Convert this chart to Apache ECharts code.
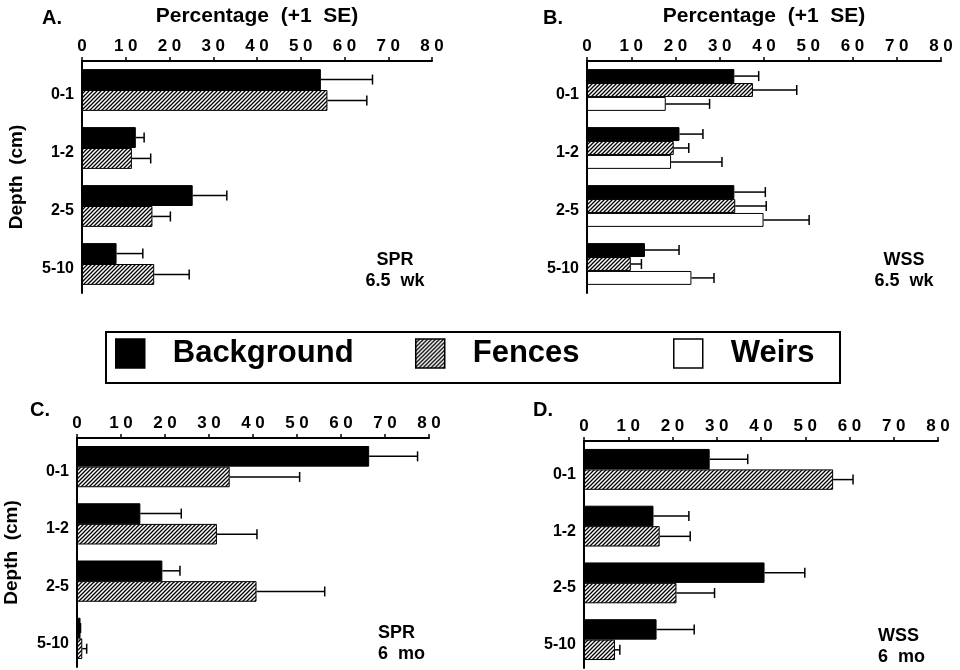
<!DOCTYPE html>
<html lang="en">
<head>
<meta charset="UTF-8">
<title>Percentage by depth</title>
<script src="https://cdn.jsdelivr.net/npm/echarts@6/dist/echarts.min.js"></script>
<style>html, body { margin: 0; background: #fff; }</style>
</head>
<body>
<div id="main" style="width:960px;height:670px;"></div>
<script>
var depths = ['0-1', '1-2', '2-5', '5-10'];
var xMin = 0, xMax = 80, xStep = 10;

// A. SPR 6.5 wk
var aBack = [54.6, 12.3, 25.3, 7.9];
var aBackSE = [11.8, 1.9, 7.8, 6.0];
var aFence = [56.1, 11.4, 16.1, 16.5];
var aFenceSE = [9.0, 4.3, 4.1, 8.0];

// B. WSS 6.5 wk
var bBack = [33.3, 20.9, 33.3, 13.1];
var bBackSE = [5.5, 5.3, 7.0, 7.7];
var bFence = [37.5, 19.6, 33.5, 9.9];
var bFenceSE = [9.9, 3.4, 7.0, 2.4];
var bWeir = [17.8, 19.0, 39.9, 23.6];
var bWeirSE = [9.9, 11.5, 10.3, 5.1];

// C. SPR 6 mo
var cBack = [66.4, 14.4, 19.4, 0.8];
var cBackSE = [11.0, 9.3, 4.0, 0];
var cFence = [34.7, 31.8, 40.8, 1.2];
var cFenceSE = [15.9, 9.1, 15.5, 1.0];

// D. WSS 6 mo
var dBack = [28.4, 15.7, 40.8, 16.4];
var dBackSE = [8.6, 8.0, 9.1, 8.5];
var dFence = [56.3, 17.1, 20.9, 7.0];
var dFenceSE = [4.5, 6.9, 8.6, 1.1];

var FONT = 'Liberation Sans, Arial, Helvetica, sans-serif';

function hatch() {
  var c = document.createElement('canvas');
  c.width = 4; c.height = 4;
  var g = c.getContext('2d');
  g.fillStyle = '#fff';
  g.fillRect(0, 0, 4, 4);
  g.strokeStyle = '#000';
  g.lineWidth = 1.3;
  g.beginPath();
  g.moveTo(0, 4); g.lineTo(4, 0);
  g.moveTo(-1, 1); g.lineTo(1, -1);
  g.moveTo(3, 5); g.lineTo(5, 3);
  g.stroke();
  return c;
}
var hatchFill = { image: hatch(), repeat: 'repeat' };

var styles = {
  Background: { color: '#000', borderColor: '#000', borderWidth: 1 },
  Fences: { color: hatchFill, borderColor: '#000', borderWidth: 1 },
  Weirs: { color: '#fff', borderColor: '#000', borderWidth: 1 }
};

var grids = [
  { left: 82, top: 61, width: 350, height: 232 },
  { left: 587, top: 61, width: 354, height: 232 },
  { left: 77, top: 438, width: 352, height: 229 },
  { left: 584, top: 441, width: 354, height: 227 }
];

var panels = [
  { name: ['Background', 'Fences'], vals: [aBack, aFence], se: [aBackSE, aFenceSE], xName: 'Percentage  (+1  SE)', yName: 'Depth  (cm)' },
  { name: ['Background', 'Fences', 'Weirs'], vals: [bBack, bFence, bWeir], se: [bBackSE, bFenceSE, bWeirSE], xName: 'Percentage  (+1  SE)', yName: '' },
  { name: ['Background', 'Fences'], vals: [cBack, cFence], se: [cBackSE, cFenceSE], xName: '', yName: 'Depth  (cm)' },
  { name: ['Background', 'Fences'], vals: [dBack, dFence], se: [dBackSE, dFenceSE], xName: '', yName: '' }
];

// error bar: line from bar end to mean+SE, with a cap
function errRender(n, idx) {
  return function (params, api) {
    var cat = api.value(0);
    var p0 = api.coord([api.value(1), cat]);
    var p1 = api.coord([api.value(2), cat]);
    var band = api.size([0, 1])[1];
    var bw = band * 0.72 / n;
    var y = p0[1] - band * 0.36 + (idx + 0.5) * bw;
    var ls = { stroke: '#000', lineWidth: 1.5 };
    return {
      type: 'group',
      children: [
        { type: 'line', shape: { x1: p0[0], y1: y, x2: p1[0], y2: y }, style: ls },
        { type: 'line', shape: { x1: p1[0], y1: y - 5, x2: p1[0], y2: y + 5 }, style: ls }
      ]
    };
  };
}

var xAxes = [], yAxes = [], series = [];
panels.forEach(function (p, i) {
  xAxes.push({
    gridIndex: i, type: 'value', position: 'top',
    min: xMin, max: xMax, interval: xStep,
    name: p.xName, nameLocation: 'middle', nameGap: 34,
    nameTextStyle: { color: '#000', fontSize: 21, fontWeight: 'bold', fontFamily: FONT },
    axisLine: { show: true, lineStyle: { color: '#000', width: 2 } },
    axisTick: { show: true, length: 4, lineStyle: { color: '#000', width: 1.5 } },
    axisLabel: {
      color: '#000', fontSize: 17, fontWeight: 'bold', fontFamily: FONT, margin: 6,
      formatter: function (v) { return String(v).split('').join(' '); }
    },
    splitLine: { show: false }
  });
  yAxes.push({
    gridIndex: i, type: 'category', data: depths, inverse: true,
    name: p.yName, nameLocation: 'middle', nameRotate: 90, nameGap: 56,
    nameTextStyle: { color: '#000', fontSize: 19, fontWeight: 'bold', fontFamily: FONT },
    axisLine: { lineStyle: { color: '#000', width: 2 } },
    axisTick: { length: 3, lineStyle: { color: '#000', width: 1.5 } },
    axisLabel: {
      color: '#000', fontSize: 16, fontWeight: 'bold', fontFamily: FONT, margin: 8,
      verticalAlign: 'top', lineHeight: 10
    }
  });
  var n = p.name.length;
  p.name.forEach(function (nm, k) {
    series.push({
      name: nm, type: 'bar', xAxisIndex: i, yAxisIndex: i,
      data: p.vals[k], barGap: '0%', barCategoryGap: '28%',
      itemStyle: styles[nm]
    });
    series.push({
      name: nm + ' SE', type: 'custom', xAxisIndex: i, yAxisIndex: i,
      renderItem: errRender(n, k),
      encode: { x: [1, 2], y: 0 },
      data: p.vals[k].map(function (v, j) { return [j, v, v + p.se[k][j]]; }),
      z: 3
    });
  });
});

function legendItem(name, left) {
  return {
    data: [name], left: left, top: 338, padding: 0,
    itemWidth: 29, itemHeight: 29, icon: 'rect', selectedMode: false,
    itemStyle: { borderColor: '#000', borderWidth: 1.5 },
    textStyle: { color: '#000', fontSize: 31, fontWeight: 'bold', fontFamily: FONT, padding: [0, 0, 0, 23] }
  };
}

function label(text, x, y, size, align) {
  return {
    type: 'text', x: x, y: y,
    style: {
      text: text, fill: '#000', textAlign: align || 'left', textVerticalAlign: 'top',
      font: 'bold ' + size + 'px ' + FONT, lineHeight: 21
    }
  };
}

var option = {
  animation: false,
  backgroundColor: '#fff',
  grid: grids,
  xAxis: xAxes,
  yAxis: yAxes,
  series: series,
  legend: [legendItem('Background', 115), legendItem('Fences', 415), legendItem('Weirs', 673)],
  graphic: [
    { type: 'rect', shape: { x: 106, y: 332, width: 734, height: 51 }, style: { fill: 'none', stroke: '#000', lineWidth: 2 } },
    label('A.', 42, 8, 20),
    label('B.', 543, 8, 20),
    label('C.', 30, 400, 20),
    label('D.', 533, 400, 20),
    label('SPR\n6.5  wk', 395, 250, 18, 'center'),
    label('WSS\n6.5  wk', 904, 250, 18, 'center'),
    label('SPR\n6  mo', 378, 623, 18),
    label('WSS\n6  mo', 878, 626, 18)
  ]
};

var myChart = echarts.init(document.getElementById('main'));
myChart.setOption(option);
</script>
</body>
</html>
